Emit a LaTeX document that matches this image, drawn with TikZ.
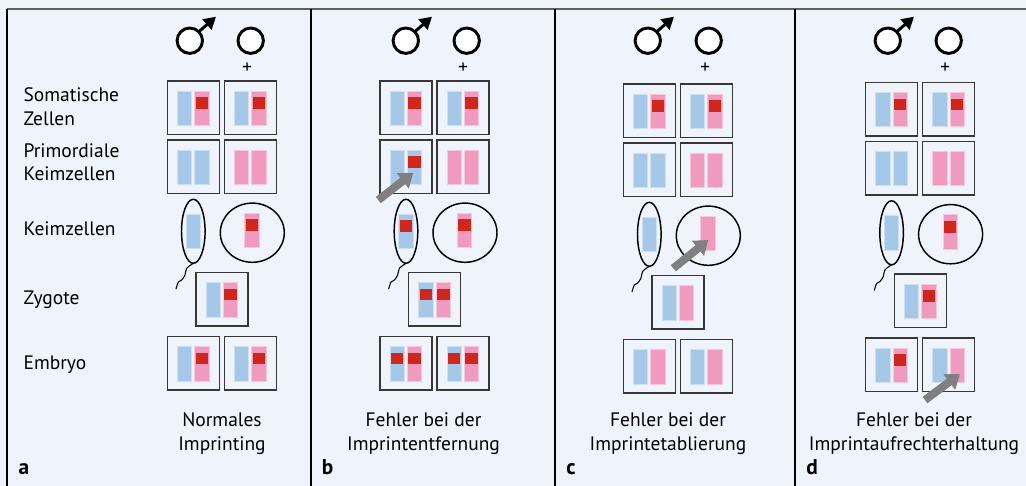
\documentclass[tikz,border=0pt]{standalone}
\usepackage{fontspec}
\setmainfont{PT Sans}
\usetikzlibrary{arrows.meta}

\definecolor{paper}{RGB}{239,244,252}
\definecolor{chromblue}{RGB}{166,200,232}
\definecolor{chrompink}{RGB}{240,154,192}
\definecolor{imprint}{RGB}{208,38,28}
\definecolor{framegray}{RGB}{55,55,55}
\definecolor{pointergray}{RGB}{128,128,128}

\tikzset{
  boxline/.style={draw=framegray, line width=1.1pt},
  cellline/.style={draw=black, line width=1.1pt},
  sexsym/.style={draw=black, line width=2.2pt, fill=white},
  pointer/.style={draw=pointergray, line width=6pt, -{Triangle[length=10pt,width=14pt]}},
  rowlabel/.style={anchor=base west, inner sep=0pt, font=\fontsize{14.6}{18}\selectfont},
  caption/.style={anchor=base, align=center, inner sep=0pt, font=\fontsize{14.6}{18}\selectfont},
  panelletter/.style={anchor=base west, inner sep=0pt, font=\fontsize{16}{18}\selectfont\bfseries},
}

\begin{document}
\begin{tikzpicture}[x=0.75pt,y=-0.75pt]
  % one chromosome: x, y (top left), colour, imprinted (1/0)
  \newcommand\chrbar[4]{%
    \filldraw[fill=#3, draw=#3!55!white, line width=0.6pt] (#1,#2) rectangle ++(14.4,34.3);
    \ifnum#4=1 \fill[imprint] (#1+1,#2+6) rectangle ++(12.4,11.7);\fi}
  % a cell with its two chromosomes
  \newcommand\cellbox[6]{%
    \draw[boxline] (#1,#2) rectangle ++(52,53.5);
    \chrbar{#1+10}{#2+10}{#3}{#4}
    \chrbar{#1+27.4}{#2+10}{#5}{#6}}
  % sperm and egg
  \newcommand\germcells[2]{%
    \draw[cellline] (193.3,231.3) ellipse (11.8 and 32);
    \chrbar{186.1}{214.3}{chromblue}{#1}
    \draw[black, line width=0.8pt] plot[smooth] coordinates {(193.3,263.3) (186.7,268.3) (185,275) (181.7,280) (178.3,282) (176,289)};
    \draw[cellline] (252.3,232.7) ellipse (32 and 29.6);
    \chrbar{244.6}{213.3}{chrompink}{#2}}

  \fill[paper] (0,0) rectangle (1026,486);
  \useasboundingbox (0,0) rectangle (1026,486);

  % frame
  \draw[framegray!80!white, line width=1.5pt] (7.3,8.7) -- (1026,8.7);
  \foreach \px in {7.3,311,555,794.7}
    \draw[black, line width=1.6pt] (\px,8.7) -- (\px,486);

  % row labels
  \foreach \ty/\txt [count=\i] in {101.7/Somatische, 125.7/Zellen, 157.3/Primordiale,
      180.7/Keimzellen, 235.7/Keimzellen, 304.3/Zygote, 369/Embryo}
    \node[rowlabel] (row\i) at (23.3,\ty) {\txt};

  % parents
  \foreach \sx [count=\i] in {0,216,458,698} {
    \draw[line width=2.2pt, -{Triangle[length=9pt,width=10pt]}] (198.8+\sx,31.7) -- (216+\sx,16.7);
    \draw[sexsym] (189.8+\sx,40.7) circle (12.7);
    \draw[sexsym] (250.7+\sx,40.7) circle (12.7);
    \node[inner sep=0pt, font=\fontsize{14.3}{18}\selectfont] (plus\i) at (247.3+\sx,68.5) {+};
  }

  % a: normal imprinting
  \cellbox{167.3}{81}{chromblue}{0}{chrompink}{1}
  \cellbox{224.3}{81}{chromblue}{0}{chrompink}{1}
  \cellbox{167.3}{140}{chromblue}{0}{chromblue}{0}
  \cellbox{224.3}{140}{chrompink}{0}{chrompink}{0}
  \germcells{0}{1}
  \cellbox{196}{272.7}{chromblue}{0}{chrompink}{1}
  \cellbox{167.3}{336.7}{chromblue}{0}{chrompink}{1}
  \cellbox{224.3}{336.7}{chromblue}{0}{chrompink}{1}

  % b: imprint not erased
  \begin{scope}[shift={(212.7,0)}]
    \cellbox{167.3}{81}{chromblue}{0}{chrompink}{1}
    \cellbox{224.3}{81}{chromblue}{0}{chrompink}{1}
    \cellbox{167.3}{140}{chromblue}{0}{chromblue}{1}
    \cellbox{224.3}{140}{chrompink}{0}{chrompink}{0}
    \germcells{1}{1}
    \cellbox{196}{272.7}{chromblue}{1}{chrompink}{1}
    \cellbox{167.3}{336.7}{chromblue}{1}{chrompink}{1}
    \cellbox{224.3}{336.7}{chromblue}{1}{chrompink}{1}
    \draw[pointer] (165.6,200) -- (200.6,172.7);
  \end{scope}

  % c: imprint not set
  \begin{scope}[shift={(456,3)}]
    \cellbox{167.3}{81}{chromblue}{0}{chrompink}{1}
    \cellbox{224.3}{81}{chromblue}{0}{chrompink}{1}
    \cellbox{167.3}{140}{chromblue}{0}{chromblue}{0}
    \cellbox{224.3}{140}{chrompink}{0}{chrompink}{0}
    \germcells{0}{0}
    \cellbox{196}{272.7}{chromblue}{0}{chrompink}{0}
    \cellbox{167.3}{336.7}{chromblue}{0}{chrompink}{0}
    \cellbox{224.3}{336.7}{chromblue}{0}{chrompink}{0}
    \draw[pointer] (217.3,265.3) -- (252.3,237);
  \end{scope}

  % d: imprint lost in the embryo
  \begin{scope}[shift={(698.3,1.5)}]
    \cellbox{167.3}{81}{chromblue}{0}{chrompink}{1}
    \cellbox{224.3}{81}{chromblue}{0}{chrompink}{1}
    \cellbox{167.3}{140}{chromblue}{0}{chromblue}{0}
    \cellbox{224.3}{140}{chrompink}{0}{chrompink}{0}
    \germcells{0}{1}
    \cellbox{196}{272.7}{chromblue}{0}{chrompink}{1}
    \cellbox{167.3}{336.7}{chromblue}{0}{chrompink}{1}
    \cellbox{224.3}{336.7}{chromblue}{0}{chrompink}{0}
    \draw[pointer] (226.7,398.5) -- (261.7,372.5);
  \end{scope}

  % captions (anchored at the second line) and panel letters
  \node[caption] (capa) at (222,450) {Normales\\Imprinting};
  \node[caption] (capb) at (423.5,450) {Fehler bei der\\Imprintentfernung};
  \node[caption] (capc) at (668,450) {Fehler bei der\\Imprintetablierung};
  \node[caption] (capd) at (914,450) {Fehler bei der\\Imprintaufrechterhaltung};
  \foreach \lx/\lt in {18.3/a, 321.7/b, 566/c, 806/d}
    \node[panelletter] (letter\lt) at (\lx,474) {\lt};
\end{tikzpicture}
\end{document}
